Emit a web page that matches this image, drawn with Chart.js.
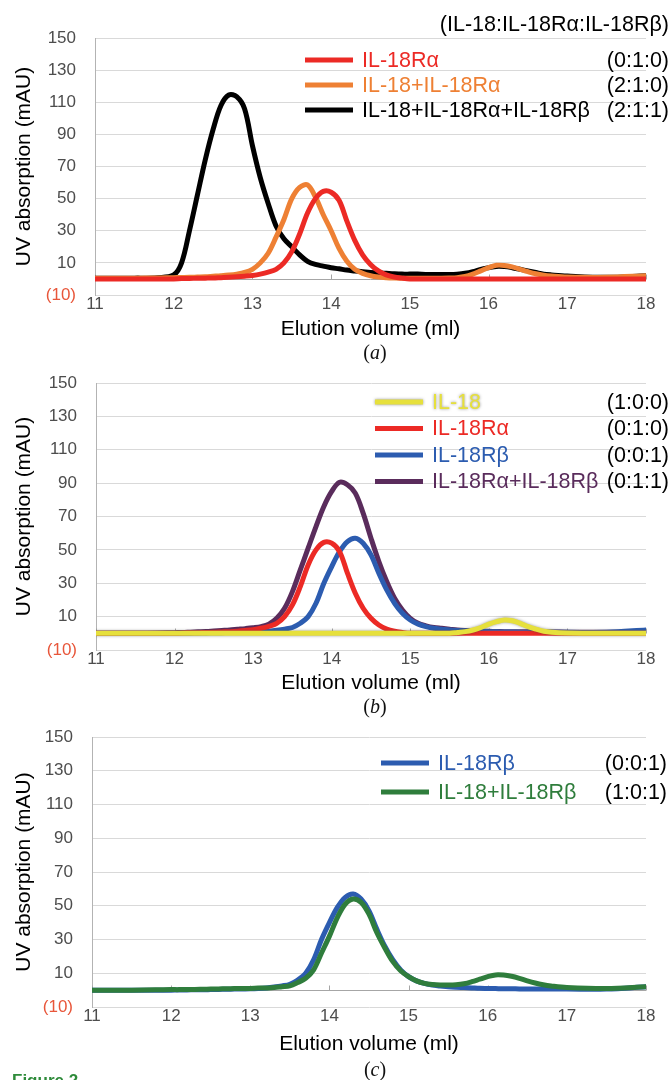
<!DOCTYPE html>
<html>
<head>
<meta charset="utf-8">
<script src="https://cdn.jsdelivr.net/npm/chart.js@4.4.1/dist/chart.umd.min.js"></script>
<style>
html, body { margin: 0; padding: 0; background: #fff; width: 672px; height: 1080px; overflow: hidden; position: relative; }
canvas { position: absolute; left: 0; }
.cap { position: absolute; left: 325px; width: 100px; text-align: center; line-height: 24px;
       font: 20px "Liberation Serif", "Times New Roman", serif; color: #111; z-index: 2; }
.fig { position: absolute; left: 12px; top: 1071px; font: bold 17px "Liberation Sans", Arial, sans-serif; color: #2e8b3a; }
</style>
</head>
<body>
<canvas id="chartA" width="672" height="345" style="top:0px"></canvas>
<canvas id="chartB" width="672" height="355" style="top:345px"></canvas>
<canvas id="chartC" width="672" height="380" style="top:700px"></canvas>
<div class="cap" style="top:341px">(<i>a</i>)</div>
<div class="cap" style="top:695px">(<i>b</i>)</div>
<div class="cap" style="top:1058px">(<i>c</i>)</div>
<div class="fig">Figure 2</div>
<script>
// elution volume (ml) shared by every trace
const volume = [11, 11.5, 11.8,
  12.0, 12.1, 12.2, 12.3, 12.4, 12.5, 12.6, 12.7, 12.8, 12.9,
  13.0, 13.1, 13.2, 13.3, 13.4, 13.5, 13.6, 13.7, 13.8, 13.9,
  14.0, 14.1, 14.2, 14.3, 14.4, 14.5, 14.6, 14.7, 14.8, 14.9,
  15.0, 15.1, 15.2, 15.3, 15.4, 15.5, 15.6, 15.7, 15.8, 15.9,
  16.0, 16.1, 16.2, 16.3, 16.4, 16.5, 16.6, 16.7, 16.8,
  17.0, 17.5, 18.0];

// UV absorption (mAU)
const il18Ra = [0, 0, 0,
  0, 0.2, 0.3, 0.4, 0.5, 0.6, 0.8, 1, 1.3, 1.7,
  2.2, 3, 4.2, 6, 10, 17, 28, 41, 50, 54.5,
  54, 49, 36, 24, 15, 9, 5, 2.5, 1.2, 0.5,
  0, 0, 0, 0, 0, 0, 0, 0, 0, 0,
  0, 0, 0, 0, 0, 0, 0, 0, 0,
  0, 0, 0];
const il18PlusRa = [0.5, 0.5, 0.6,
  0.8, 0.9, 1, 1.2, 1.4, 1.7, 2, 2.4, 3, 4,
  6, 10, 16, 26, 37, 50, 57, 58.5, 51, 40,
  30, 19, 11, 6, 3.5, 2, 1.2, 0.8, 0.6, 0.5,
  0.5, 0.5, 0.5, 0.5, 0.5, 0.6, 0.8, 1.5, 3, 5,
  7, 8.5, 8.4, 7.5, 6, 4.5, 3.2, 2.3, 1.8,
  1.2, 1, 2];
const il18PlusRaRb = [0.5, 0.5, 0.8,
  2.5, 10, 30, 52, 74, 93, 108, 114.5, 113.5, 106,
  83, 63, 47, 33, 25, 20, 15, 11, 9, 8,
  7, 6.3, 5.5, 5, 4.5, 4, 3.8, 3.5, 3.2, 3,
  3, 3, 2.8, 2.8, 2.8, 2.8, 3, 3.5, 4.5, 6,
  7, 7.8, 7.7, 7, 6, 5, 4, 3, 2.5,
  1.8, 1, 2];
const il18 = [0, 0, 0,
  0, 0, 0, 0, 0, 0, 0, 0, 0, 0,
  0, 0, 0, 0, 0, 0, 0, 0, 0, 0,
  0, 0, 0, 0, 0, 0, 0, 0, 0, 0,
  0, 0, 0, 0, 0, 0, 0.5, 1, 2, 3.5,
  5.5, 7, 8, 7.5, 6, 4, 2.5, 1.2, 0.6,
  0.2, 0, 0];
const il18Rb = [0, 0, 0,
  0, 0.1, 0.1, 0.2, 0.2, 0.3, 0.4, 0.5, 0.6, 0.7,
  0.8, 1, 1.3, 1.8, 2.5, 3.5, 6, 10, 18, 30,
  40, 49, 55, 57, 54, 47, 36, 26, 18, 12,
  8, 5.5, 4, 3, 2.5, 2, 1.7, 1.5, 1.3, 1.1,
  1, 0.9, 0.8, 0.8, 0.7, 0.7, 0.6, 0.6, 0.6,
  0.6, 0.6, 2];
const il18RaPlusRb = [0, 0, 0.2,
  0.4, 0.5, 0.7, 0.9, 1.1, 1.4, 1.7, 2, 2.4, 2.8,
  3.3, 4, 5.5, 9, 15, 25, 38, 51, 64, 76,
  85, 90.5, 89, 84, 72, 57, 43, 31, 21, 14,
  9, 6, 4.5, 3.5, 3, 2.5, 2, 1.7, 1.5, 1.3,
  1.2, 1.1, 1, 1, 0.9, 0.9, 0.8, 0.8, 0.8,
  0.7, 0.6, 1];
const il18PlusRb = [0, 0, 0.2,
  0.3, 0.3, 0.4, 0.4, 0.5, 0.6, 0.7, 0.8, 0.9, 1,
  1, 1.2, 1.3, 1.5, 2, 2.5, 4.5, 7, 12, 22,
  32, 43, 51, 54, 52, 45, 34, 25, 17, 11.5,
  8, 5.5, 4, 3.3, 3, 3, 3.2, 3.8, 5, 6.5,
  8, 9, 8.9, 8.2, 7, 5.5, 4.2, 3.2, 2.5,
  1.6, 1, 2];

const xTicks = [11, 12, 13, 14, 15, 16, 17, 18];
const yTicks = [-10, 10, 30, 50, 70, 90, 110, 130, 150];
const ratioHeader = '(IL-18:IL-18Rα:IL-18Rβ)';

const RED = '#ec2a25', ORANGE = '#ee8034', BLACK = '#000000', YELLOW = '#e6e03c',
      BLUE = '#2c5cb0', PURPLE = '#5a2c5c', GREEN = '#2f7d3c';

const tickFont = { family: '"Liberation Sans Narrow", "Liberation Sans", Arial, sans-serif', size: 17 };
const titleFont = { family: '"Liberation Sans", Arial, sans-serif', size: 21 };
const legendFont = '21.5px "Liberation Sans", Arial, sans-serif';

function series(label, values, color, extra) {
  return Object.assign({
    label: label,
    data: values.map((v, i) => ({ x: volume[i], y: v })),
    borderColor: color,
    backgroundColor: color
  }, extra || {});
}

// x axis drawn at y = 0 with small upward ticks, like the spreadsheet original
const zeroAxis = {
  id: 'zeroAxis',
  beforeDatasetsDraw(chart) {
    const { ctx, scales: { x, y } } = chart;
    const y0 = Math.round(y.getPixelForValue(0)) + 0.5;
    ctx.save();
    ctx.strokeStyle = '#a6a6a6';
    ctx.lineWidth = 1;
    ctx.beginPath();
    ctx.moveTo(x.left, y0);
    ctx.lineTo(x.right, y0);
    x.ticks.forEach(t => {
      const px = Math.round(x.getPixelForValue(t.value)) + 0.5;
      ctx.moveTo(px, y0);
      ctx.lineTo(px, y0 - 5);
    });
    ctx.stroke();
    ctx.restore();
  }
};

// grey halo round the yellow trace
const glow = {
  id: 'glow',
  beforeDatasetDraw(chart, args) {
    if (chart.data.datasets[args.index].glow) {
      chart.ctx.save();
      chart.ctx.shadowColor = 'rgba(70,70,70,0.55)';
      chart.ctx.shadowBlur = 3;
    }
  },
  afterDatasetDraw(chart, args) {
    if (chart.data.datasets[args.index].glow) chart.ctx.restore();
  }
};

const sideLegend = {
  id: 'sideLegend',
  afterDraw(chart, args, opts) {
    const ctx = chart.ctx;
    ctx.save();
    ctx.font = legendFont;
    ctx.textBaseline = 'middle';
    if (opts.header) {
      ctx.fillStyle = '#000';
      ctx.textAlign = 'right';
      ctx.fillText(opts.header, opts.right, opts.headerY);
    }
    chart.data.datasets.forEach((ds, i) => {
      const y = opts.top + i * opts.step;
      ctx.save();
      if (ds.glow) { ctx.shadowColor = 'rgba(70,70,70,0.6)'; ctx.shadowBlur = 3; }
      ctx.strokeStyle = ds.borderColor;
      ctx.lineWidth = 5;
      ctx.beginPath();
      ctx.moveTo(opts.lineX, y);
      ctx.lineTo(opts.lineX + 48, y);
      ctx.stroke();
      ctx.fillStyle = ds.borderColor;
      ctx.textAlign = 'left';
      ctx.fillText(ds.label, opts.lineX + 57, y + 1);
      ctx.restore();
      ctx.fillStyle = '#000';
      ctx.textAlign = 'right';
      ctx.fillText(opts.ratios[i], opts.right, y + 1);
    });
    ctx.restore();
  }
};

function makeChart(id, datasets, legend, box) {
  return new Chart(document.getElementById(id), {
    type: 'line',
    data: { datasets: datasets },
    options: {
      responsive: false,
      animation: false,
      layout: { padding: { left: 8, right: 26, top: box.top, bottom: 0 } },
      elements: {
        point: { radius: 0 },
        line: { borderWidth: 5, tension: 0.35, borderCapStyle: 'round', borderJoinStyle: 'round' }
      },
      plugins: {
        legend: { display: false },
        tooltip: { enabled: false },
        sideLegend: legend
      },
      scales: {
        x: {
          type: 'linear', min: 11, max: 18,
          afterBuildTicks: s => { s.ticks = xTicks.map(v => ({ value: v })); },
          afterFit: s => { s.height = box.xHeight; },
          grid: { display: false },
          border: { display: false },
          ticks: { padding: -9, color: '#4d4d4d', font: tickFont, maxRotation: 0 },
          title: { display: true, text: 'Elution volume (ml)', color: '#000', font: titleFont,
                   padding: { top: 0, bottom: box.titlePad } }
        },
        y: {
          min: -10, max: 150,
          afterBuildTicks: s => { s.ticks = yTicks.map(v => ({ value: v })); },
          afterFit: s => { s.width = box.yWidth; },
          grid: { color: '#d9d9d9', drawTicks: false },
          border: { display: true, color: '#b3b3b3' },
          ticks: {
            padding: 19,
            font: tickFont,
            color: c => (c.tick && c.tick.value === -10) ? '#e8563a' : '#4d4d4d',
            callback: v => v === -10 ? '(10)' : String(v)
          },
          title: { display: true, text: 'UV absorption (mAU)', color: '#000', font: titleFont,
                   padding: { top: 4, bottom: 0 } }
        }
      }
    },
    plugins: [zeroAxis, glow, sideLegend]
  });
}

makeChart('chartA', [
  series('IL-18Rα', il18Ra, RED),
  series('IL-18+IL-18Rα', il18PlusRa, ORANGE),
  series('IL-18+IL-18Rα+IL-18Rβ', il18PlusRaRb, BLACK)
], {
  header: ratioHeader, headerY: 25, right: 669,
  lineX: 305, top: 60, step: 25,
  ratios: ['(0:1:0)', '(2:1:0)', '(2:1:1)']
}, { top: 38, xHeight: 50, titlePad: 3, yWidth: 87 });

makeChart('chartB', [
  series('IL-18', il18, YELLOW, { glow: true }),
  series('IL-18Rα', il18Ra, RED),
  series('IL-18Rβ', il18Rb, BLUE),
  series('IL-18Rα+IL-18Rβ', il18RaPlusRb, PURPLE)
], {
  right: 669, lineX: 375, top: 57, step: 26.5,
  ratios: ['(1:0:0)', '(0:1:0)', '(0:0:1)', '(0:1:1)']
}, { top: 38, xHeight: 50, titlePad: 4, yWidth: 88 });

// green is drawn over blue: lower order sits on top
makeChart('chartC', [
  series('IL-18Rβ', il18Rb, BLUE, { order: 1 }),
  series('IL-18+IL-18Rβ', il18PlusRb, GREEN, { order: 0 })
], {
  right: 667, lineX: 381, top: 63, step: 29,
  ratios: ['(0:0:1)', '(1:0:1)']
}, { top: 37, xHeight: 73, titlePad: 23, yWidth: 84 });
</script>
</body>
</html>
